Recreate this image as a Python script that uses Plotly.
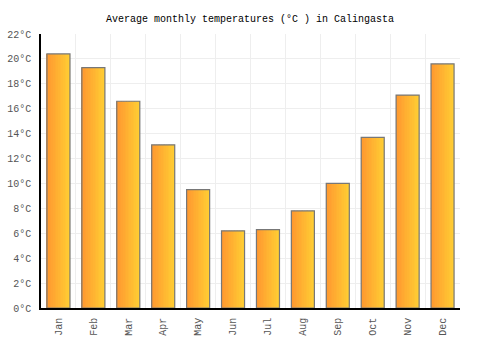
import plotly.graph_objects as go

months = ["Jan", "Feb", "Mar", "Apr", "May", "Jun", "Jul", "Aug", "Sep", "Oct", "Nov", "Dec"]
temps = [20.4, 19.3, 16.6, 13.1, 9.5, 6.2, 6.3, 7.8, 10.0, 13.7, 17.1, 19.6]
y_ticks = list(range(0, 23, 2))
y_tick_labels = ["%d°C" % v for v in y_ticks]

BAR_W = 0.66
N_SLICES = 14
c0 = (255, 152, 48)
c1 = (255, 204, 51)

fig = go.Figure()
sw = BAR_W / N_SLICES
for i in range(N_SLICES):
    t = i / (N_SLICES - 1)
    col = "rgb(%d,%d,%d)" % tuple(round(a + (b - a) * t) for a, b in zip(c0, c1))
    fig.add_trace(go.Bar(
        x=months, y=temps, width=sw * 1.05, offset=-BAR_W / 2 + i * sw,
        marker=dict(color=col, line=dict(width=0)), hoverinfo="skip", showlegend=False))

fig.add_trace(go.Bar(
    x=months, y=temps, width=BAR_W, offset=-BAR_W / 2,
    marker=dict(color="rgba(0,0,0,0)", line=dict(color="#777777", width=1.2)),
    showlegend=False))

font = "Liberation Mono, DejaVu Sans Mono, monospace"
fig.update_layout(
    width=500, height=350,
    margin=dict(l=41, r=40, t=34, b=42),
    paper_bgcolor="white", plot_bgcolor="white",
    barmode="overlay",
    title=dict(text="Average monthly temperatures (°C ) in Calingasta",
               x=0.5, xanchor="center", y=1 - 18 / 350, yanchor="middle",
               font=dict(family=font, size=10, color="#000")),
    font=dict(family=font, size=10, color="#555"),
    xaxis=dict(type="category", tickson="boundaries", showgrid=True, gridcolor="#eeeeee",
               tickangle=-90, showline=True, linecolor="#000", linewidth=1.5,
               ticks="", ticklabelstandoff=4, range=[-0.5, 11.5], fixedrange=True,
               automargin=False),
    yaxis=dict(range=[0, 22], tickvals=y_ticks, ticktext=y_tick_labels, showgrid=True,
               gridcolor="#eeeeee", showline=True, linecolor="#000", linewidth=1.5,
               zeroline=False, ticks="", ticklabelstandoff=6, fixedrange=True,
               automargin=False),
)
fig.write_html("out.html")
